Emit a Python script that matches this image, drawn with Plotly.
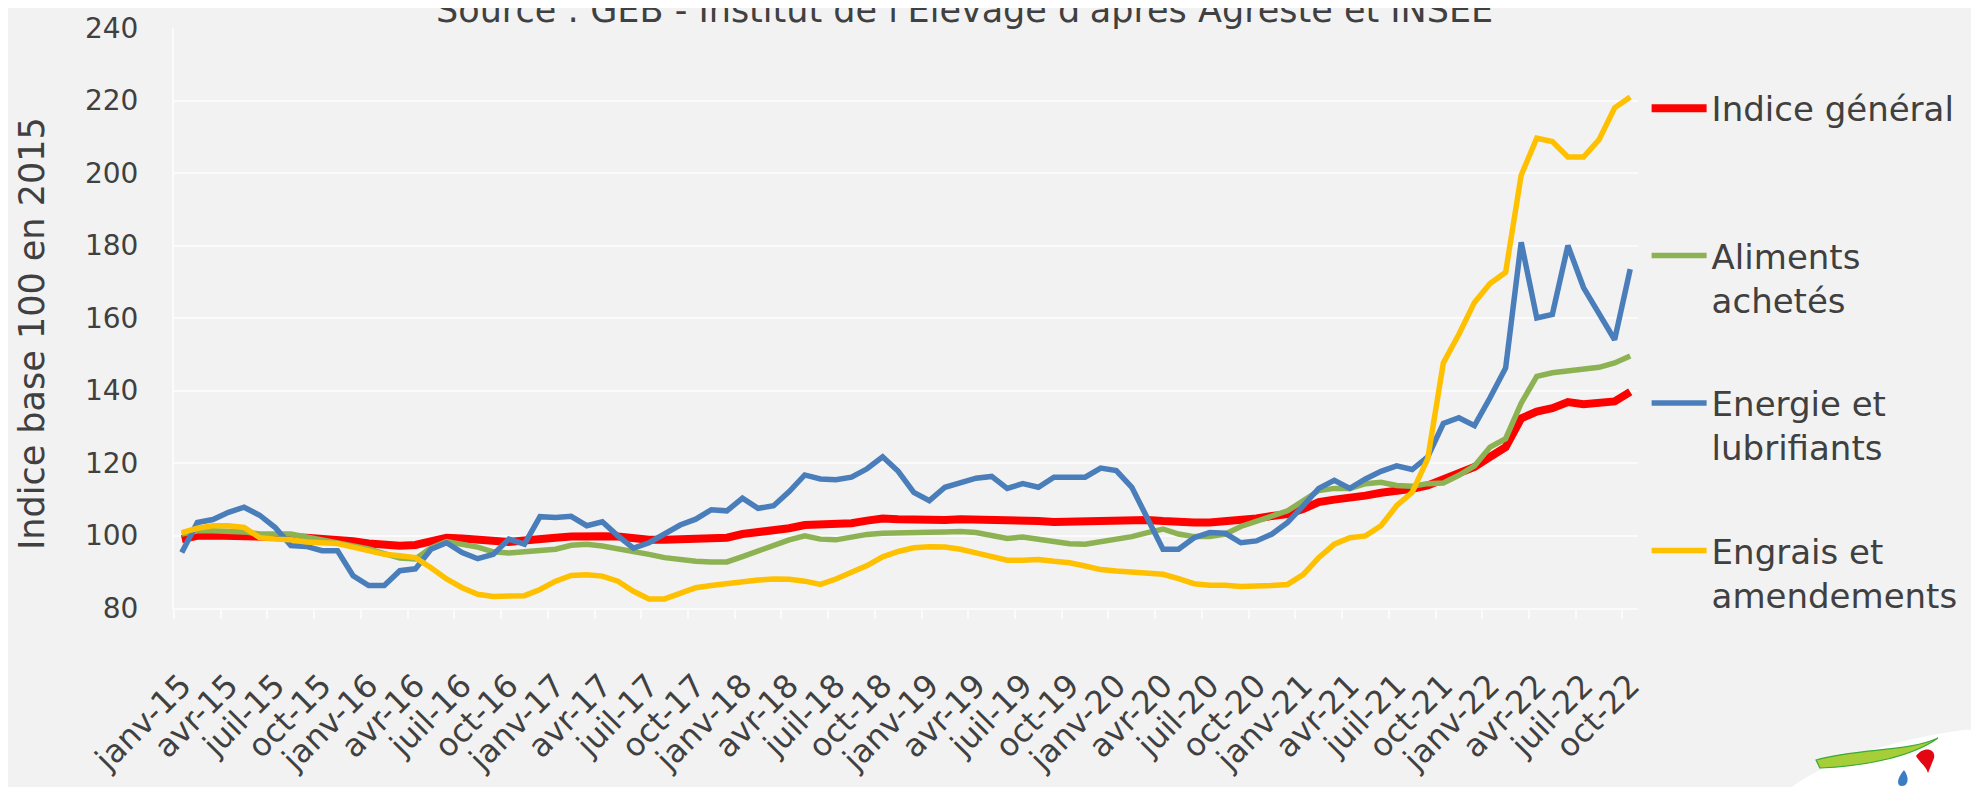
import plotly.graph_objects as go

month_names = ["janv", "févr", "mars", "avr", "mai", "juin",
               "juil", "août", "sept", "oct", "nov", "déc"]
months = [f"{m}-{y}" for y in range(15, 23) for m in month_names][:94]

indice_general = [
    99.0, 99.9, 100.0, 100.0, 100.0, 100.0, 99.8, 99.5, 99.4, 99.2, 99.0, 98.4,
    97.8, 97.4, 97.2, 97.4, 98.5, 99.4, 99.2, 98.8, 98.4, 98.2, 98.6, 99.2,
    99.4, 99.7, 99.9, 99.8, 99.7, 99.0, 98.8, 98.8, 98.9, 99.2, 99.3, 99.4,
    100.4, 100.8, 101.3, 102.0, 102.9, 102.9, 102.9, 103.4, 104.1, 104.7, 104.5, 104.3,
    104.1, 104.3, 104.5, 104.5, 104.5, 104.3, 104.2, 104.0, 103.7, 103.8, 104.0, 104.3,
    104.5, 104.5, 104.3, 104.0, 103.6, 103.6, 103.6, 103.8, 104.0, 104.7, 105.4, 105.9,
    107.3, 109.2, 109.9, 110.3, 111.0, 111.8, 112.2, 112.9, 113.8, 115.7, 117.5, 118.9,
    121.7, 124.4, 132.3, 134.2, 135.1, 136.8, 136.2, 136.8, 137.0, 139.6]

aliments = [
    100.4, 101.3, 101.3, 101.3, 101.0, 100.4, 100.4, 100.4, 99.6, 98.8, 98.0, 97.2,
    96.3, 95.0, 93.8, 93.5, 96.6, 98.3, 97.6, 96.8, 95.5, 95.2, 95.5, 96.0,
    96.2, 97.3, 97.6, 97.1, 96.4, 95.5, 94.8, 93.9, 93.3, 92.9, 92.7, 92.7,
    94.2, 95.7, 97.6, 98.8, 99.9, 99.0, 98.8, 99.7, 100.3, 100.6, 100.8, 100.8,
    100.9, 101.0, 101.1, 100.8, 100.1, 99.2, 99.6, 99.0, 98.4, 97.7, 97.6, 98.3,
    99.0, 99.7, 100.8, 101.8, 100.4, 99.7, 99.7, 100.4, 102.5, 104.0, 105.4, 106.8,
    109.6, 112.4, 113.0, 113.0, 114.3, 114.7, 113.8, 113.6, 114.3, 114.5, 116.6, 119.2,
    124.4, 126.7, 136.5, 143.9, 144.9, 145.3, 145.8, 146.4, 147.6, 149.5]

energie = [
    95.3, 103.6, 104.4, 106.4, 107.8, 105.6, 102.2, 97.2, 97.0, 95.8, 95.8, 88.9,
    86.2, 86.2, 90.3, 90.8, 96.2, 98.0, 95.3, 93.6, 94.8, 99.0, 97.6, 105.2,
    105.0, 105.3, 102.7, 103.8, 99.9, 96.5, 98.0, 100.4, 102.9, 104.5, 107.1, 106.8,
    110.3, 107.5, 108.2, 112.1, 116.7, 115.6, 115.4, 116.1, 118.4, 121.7, 117.7, 111.9,
    109.6, 113.3, 114.7, 115.8, 116.3, 113.0, 114.3, 113.3, 116.1, 116.1, 116.1, 118.6,
    117.9, 113.3, 104.5, 96.2, 96.2, 99.4, 100.8, 100.6, 98.0, 98.5, 100.4, 103.6,
    108.2, 113.0, 115.2, 113.0, 115.6, 117.7, 119.2, 118.2, 121.7, 130.9, 132.5, 130.3,
    138.0, 146.2, 180.9, 160.0, 161.0, 180.0, 168.4, 161.4, 154.0, 173.5]

engrais = [
    100.8, 102.0, 102.7, 102.7, 102.2, 99.4, 99.0, 98.8, 98.2, 98.0, 97.8, 96.8,
    95.8, 94.8, 94.4, 93.9, 91.1, 88.0, 85.6, 83.8, 83.2, 83.2, 83.4, 85.1,
    87.4, 89.0, 89.2, 88.8, 87.4, 84.6, 82.5, 82.5, 83.9, 85.6, 86.2, 86.8,
    87.1, 87.7, 88.0, 87.9, 87.4, 86.5, 88.0, 89.7, 91.7, 94.1, 95.6, 96.6,
    96.9, 96.8, 96.2, 95.2, 94.1, 93.2, 93.2, 93.4, 92.9, 92.5, 91.6, 90.6,
    90.2, 89.9, 89.9, 89.3, 88.1, 86.7, 86.3, 86.3, 85.9, 85.9, 86.2, 86.5,
    89.2, 93.9, 97.6, 99.4, 99.9, 102.7, 108.2, 111.9, 121.2, 147.6, 155.5, 164.3,
    169.5, 172.6, 199.4, 209.6, 208.7, 204.4, 204.4, 209.2, 218.0, 221.0]

series_names = ["Indice général<br> ", "Aliments<br>achetés",
                "Energie et<br>lubrifiants", "Engrais et<br>amendements"]
series_values = [indice_general, aliments, energie, engrais]
series_colors = ["#FF0000", "#8DB254", "#4A7EBB", "#FFC000"]
series_widths = [8, 5.5, 5.5, 5.5]

y_ticks = [80, 100, 120, 140, 160, 180, 200, 220, 240]
title_text = "Source : GEB - Institut de l'Elevage d'après Agreste et INSEE"
y_title = "Indice base 100 en 2015"

FONT = "DejaVu Sans"
TXT = "#404040"
BG = "#F2F2F2"
GRID = "#FBFBFB"

W, H = 1979, 787
ML, MR, MT, MB = 166, 349, 20, 187
PW, PH = W - ML - MR, H - MT - MB


def px_path(points, close=True):
    """convert pixel coords (from top-left) to a paper-coords path"""
    parts = []
    for cmd, pts in points:
        coords = " ".join(f"{(x - ML) / PW:.4f},{(H - MB - y) / PH:.4f}" for x, y in pts)
        parts.append(f"{cmd} {coords}")
    return " ".join(parts) + (" Z" if close else "")


x_idx = list(range(len(months)))
tick_idx = x_idx[::3]
tick_txt = months[::3]

fig = go.Figure()
for i, (name, vals, col, w) in enumerate(zip(series_names, series_values, series_colors, series_widths)):
    fig.add_trace(go.Scatter(
        x=x_idx, y=vals, name=name, mode="lines",
        line=dict(color=col, width=w), legendgroup=f"g{i}",
    ))

fig.update_layout(
    width=W, height=H,
    paper_bgcolor=BG, plot_bgcolor=BG,
    margin=dict(l=ML, r=MR, t=MT, b=MB, autoexpand=False),
    font=dict(family=FONT, color=TXT, size=28),
    showlegend=True,
    legend=dict(
        font=dict(family=FONT, size=34, color=TXT),
        x=0.828, xref="container", xanchor="left",
        y=0.909, yref="container", yanchor="top",
        bgcolor="rgba(0,0,0,0)",
        tracegroupgap=56, itemwidth=55, valign="top",
        traceorder="grouped", maxheight=760,
    ),
    xaxis=dict(
        range=[-0.5, len(months) - 0.5],
        tickmode="array", tickvals=tick_idx, ticktext=tick_txt,
        tickangle=-45, ticks="", showgrid=False, zeroline=False,
        showline=True, linecolor=GRID, linewidth=2,
        tickfont=dict(family=FONT, size=32, color=TXT),
        ticklabelstandoff=44,
        minor=dict(tickmode="linear", tick0=-0.5, dtick=3, ticks="outside",
                   ticklen=9, tickwidth=2, tickcolor=GRID, showgrid=False),
    ),
    yaxis=dict(
        range=[80, 240], tickmode="array", tickvals=y_ticks,
        showgrid=True, gridcolor=GRID, gridwidth=2, zeroline=False,
        showline=True, linecolor=GRID, linewidth=2, ticks="",
        tickfont=dict(family=FONT, size=28, color=TXT),
        ticklabelstandoff=28,
    ),
    annotations=[
        dict(text=title_text, xref="paper", yref="paper", x=0.54,
             y=(H - MB - 2) / PH,
             xanchor="center", yanchor="middle", showarrow=False,
             font=dict(family=FONT, size=35, color=TXT)),
        dict(text=y_title, xref="paper", yref="paper",
             x=(24 - ML) / PW, y=(H - MB - 326) / PH,
             xanchor="center", yanchor="middle", textangle=-90, showarrow=False,
             font=dict(family=FONT, size=35, color=TXT)),
    ],
)

# logo (bottom right, partly cut off)
blob = px_path([("M", [(1762, 800)]),
                ("C", [(1790, 760), (1880, 732), (1955, 722)]),
                ("C", [(1975, 720), (1982, 735), (1979, 760)]),
                ("L", [(1979, 800)])])
fig.add_shape(type="path", xref="paper", yref="paper", layer="above",
              path=blob, fillcolor="white", line=dict(width=0))
swoosh = px_path([("M", [(1808, 752)]),
                  ("C", [(1850, 740), (1900, 744), (1930, 730)]),
                  ("C", [(1905, 748), (1860, 758), (1812, 760)])])
fig.add_shape(type="path", xref="paper", yref="paper", layer="above",
              path=swoosh, fillcolor="#A6CE39", line=dict(color="#3AA935", width=1.2))
red_mark = px_path([("M", [(1908, 748)]),
                    ("C", [(1915, 738), (1928, 740), (1926, 750)]),
                    ("L", [(1920, 765)]),
                    ("C", [(1918, 758), (1912, 755), (1908, 748)])])
fig.add_shape(type="path", xref="paper", yref="paper", layer="above",
              path=red_mark, fillcolor="#E30613", line=dict(width=0))
drop = px_path([("M", [(1896, 762)]),
                ("C", [(1902, 770), (1900, 778), (1894, 778)]),
                ("C", [(1888, 778), (1889, 770), (1896, 762)])])
fig.add_shape(type="path", xref="paper", yref="paper", layer="above",
              path=drop, fillcolor="#3B7DC4", line=dict(width=0))

fig.write_html("out.html")
